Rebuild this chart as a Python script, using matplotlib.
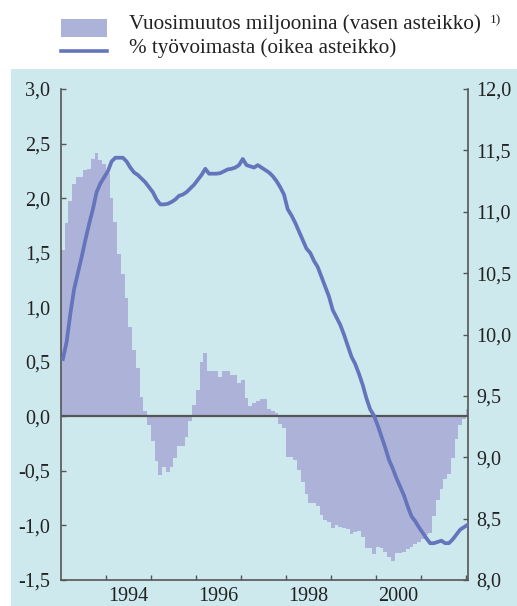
import numpy as np
import matplotlib
matplotlib.use("Agg")
import matplotlib.pyplot as plt
from matplotlib.patches import Rectangle
from matplotlib.lines import Line2D
from matplotlib.ticker import FixedLocator, FuncFormatter, NullFormatter

# monthly data, Jan 1993 .. Jan 2002
start_year = 1993
change_millions = [
    1.52, 1.77, 1.97, 2.13, 2.19, 2.19, 2.26, 2.27, 2.36, 2.41, 2.35, 2.31,
    2.23, 2.00, 1.78, 1.49, 1.30, 1.08, 0.82, 0.61, 0.44, 0.18, 0.05, -0.08,
    -0.23, -0.41, -0.54, -0.46, -0.51, -0.46, -0.38, -0.27, -0.27, -0.19, -0.04, 0.10,
    0.24, 0.50, 0.58, 0.42, 0.42, 0.42, 0.36, 0.415, 0.415, 0.38, 0.38, 0.305,
    0.33, 0.165, 0.095, 0.12, 0.14, 0.16, 0.16, 0.07, 0.05, 0.03, -0.07, -0.11,
    -0.37, -0.37, -0.40, -0.49, -0.60, -0.715, -0.79, -0.79, -0.82, -0.905, -0.95, -0.965,
    -1.02, -1.00, -1.01, -1.02, -1.035, -1.08, -1.06, -1.05, -1.11, -1.21, -1.21, -1.26,
    -1.20, -1.21, -1.24, -1.29, -1.33, -1.255, -1.255, -1.24, -1.215, -1.20, -1.17, -1.155,
    -1.12, -1.09, -1.07, -0.91, -0.77, -0.665, -0.57, -0.53, -0.385, -0.21, -0.08, -0.025,
    0.07,
]
rate_pct = [
    9.80, 9.94, 10.17, 10.37, 10.50, 10.63, 10.77, 10.90, 11.02, 11.16, 11.23, 11.28,
    11.33, 11.41, 11.44, 11.44, 11.44, 11.41, 11.36, 11.32, 11.30, 11.27, 11.24, 11.20,
    11.16, 11.10, 11.06, 11.06, 11.065, 11.08, 11.10, 11.13, 11.14, 11.16, 11.19, 11.22,
    11.26, 11.30, 11.35, 11.31, 11.31, 11.31, 11.315, 11.33, 11.345, 11.35, 11.36, 11.38,
    11.43, 11.38, 11.37, 11.36, 11.38, 11.36, 11.34, 11.32, 11.29, 11.25, 11.20, 11.14,
    11.02, 10.97, 10.91, 10.84, 10.77, 10.70, 10.665, 10.60, 10.55, 10.47, 10.39, 10.31,
    10.20, 10.14, 10.08, 10.00, 9.91, 9.82, 9.76, 9.68, 9.59, 9.48, 9.39, 9.34,
    9.26, 9.17, 9.08, 8.98, 8.91, 8.83, 8.76, 8.69, 8.60, 8.52, 8.48, 8.43,
    8.385, 8.34, 8.30, 8.30, 8.31, 8.32, 8.30, 8.30, 8.33, 8.37, 8.41, 8.43,
    8.45,
]
year_labels = ["1994", "1996", "1998", "2000"]
left_ticks = [-1.5, -1.0, -0.5, 0.0, 0.5, 1.0, 1.5, 2.0, 2.5, 3.0]
right_ticks = [8.0, 8.5, 9.0, 9.5, 10.0, 10.5, 11.0, 11.5, 12.0]

legend_bar = "Vuosimuutos miljoonina (vasen asteikko)"
legend_line = "% työvoimasta (oikea asteikko)"

BG = "#cde9ed"
BAR = "#adb2d8"
LINE = "#6675bb"
AXC = "#555555"

plt.rcParams["font.family"] = ["Liberation Serif", "DejaVu Serif"]
plt.rcParams["axes.unicode_minus"] = False

W, H = 517, 606
fig = plt.figure(figsize=(W / 100, H / 100), dpi=100)


def fx(px):
    return px / W


def fy(py):
    return 1 - py / H


# light blue panel behind the chart
fig.patches.append(Rectangle((fx(11), 0), 1 - fx(11), fy(69), transform=fig.transFigure,
                             facecolor=BG, edgecolor="none", zorder=-10))

ax = fig.add_axes([fx(61), fy(580), fx(468) - fx(61), fy(89) - fy(580)])
ax.set_facecolor(BG)

n = len(change_millions)
month_pos = start_year + np.arange(n) / 12
ax.bar(month_pos, change_millions, width=1 / 12, align="edge", color=BAR,
       linewidth=0, zorder=2)
ax.axhline(0, color=AXC, linewidth=1.6, zorder=3)

ax.set_xlim(start_year, start_year + 9.05)
ax.set_ylim(-1.5, 3.0)

fmt = FuncFormatter(lambda v, p: f"{v:.1f}".replace(".", ","))
ax.yaxis.set_major_locator(FixedLocator(left_ticks))
ax.yaxis.set_major_formatter(fmt)

ax.xaxis.set_major_locator(FixedLocator(list(range(1994, 2003))))
ax.xaxis.set_major_formatter(NullFormatter())
ax.xaxis.set_minor_locator(FixedLocator([int(y) + 0.5 for y in year_labels]))
ax.xaxis.set_minor_formatter(FuncFormatter(lambda v, p: str(int(v))))

for s in ["top", "right"]:
    ax.spines[s].set_visible(False)
for s in ["left", "bottom"]:
    ax.spines[s].set_color(AXC)
    ax.spines[s].set_linewidth(1.2)

ax.tick_params(axis="y", direction="in", length=3.5, width=1, color=AXC,
               labelsize=14.5, pad=8, labelcolor="#222222")
ax.tick_params(axis="x", which="major", direction="in", length=3.5, width=1, color=AXC)
ax.tick_params(axis="x", which="minor", length=0, labelsize=14.5, pad=5, labelcolor="#222222")

ax2 = ax.twinx()
ax2.plot(month_pos + 1 / 24, rate_pct, color=LINE, linewidth=2.7, zorder=4,
         solid_joinstyle="round")
ax2.set_ylim(8.0, 12.0)
ax2.yaxis.set_major_locator(FixedLocator(right_ticks))
ax2.yaxis.set_major_formatter(fmt)
for s in ["top", "left", "bottom"]:
    ax2.spines[s].set_visible(False)
ax2.spines["right"].set_color(AXC)
ax2.spines["right"].set_linewidth(1.2)
ax2.tick_params(axis="y", direction="in", length=3.5, width=1, color=AXC,
                labelsize=14.5, pad=6, labelcolor="#222222")

# legend
fig.patches.append(Rectangle((fx(61), fy(37)), fx(107) - fx(61), fy(19) - fy(37),
                             transform=fig.transFigure, facecolor=BAR, edgecolor="none"))
fig.lines.append(Line2D([fx(61), fx(107)], [fy(50.5), fy(50.5)], transform=fig.transFigure,
                        color=LINE, linewidth=2.6))
fig.text(fx(129), fy(29.5), legend_bar, fontsize=15.2, va="baseline", ha="left",
         color="#222222")
fig.text(fx(490), fy(23), "1)", fontsize=9.5, va="baseline", ha="left", color="#222222")
fig.text(fx(129), fy(53), legend_line, fontsize=15.2, va="baseline", ha="left",
         color="#222222")

fig.savefig("out.png", dpi=100, facecolor="white")
